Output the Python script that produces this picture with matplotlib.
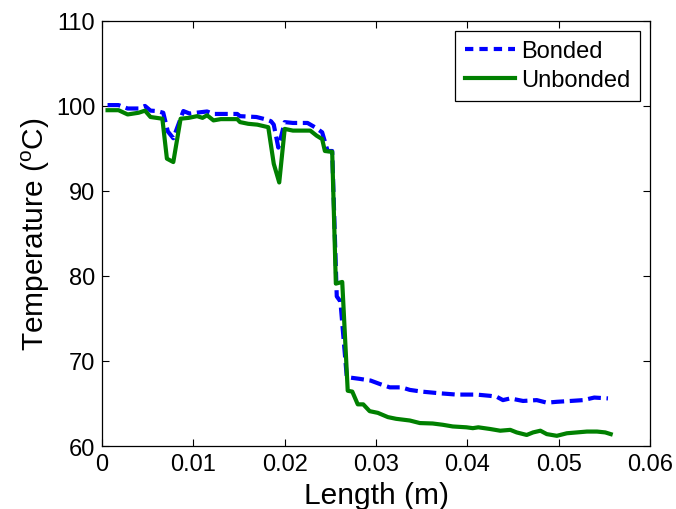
import matplotlib
matplotlib.use("Agg")
import matplotlib.pyplot as plt

plt.rcParams['font.family'] = ['Liberation Sans', 'DejaVu Sans']
plt.rcParams['mathtext.fontset'] = 'custom'
plt.rcParams['mathtext.rm'] = 'Liberation Sans'
plt.rcParams['mathtext.it'] = 'Liberation Sans'

# Bonded sample: position along the specimen (m) and temperature (degC)
bonded_x = [0.0006, 0.0018, 0.0028, 0.0040, 0.0047, 0.0053, 0.0060, 0.0067,
            0.0072, 0.0078, 0.0089, 0.0096, 0.0103, 0.0115, 0.0122, 0.0130,
            0.0148, 0.0151, 0.0169, 0.0180, 0.0185, 0.0188, 0.0193, 0.0200,
            0.0209, 0.0225, 0.0233, 0.0241, 0.0247, 0.0252, 0.0257, 0.0261,
            0.0268, 0.0282, 0.0294, 0.0304, 0.0315, 0.0328, 0.0337, 0.0350,
            0.0370, 0.0388, 0.0410, 0.0425, 0.0432, 0.0439, 0.0447, 0.0461,
            0.0476, 0.0487, 0.0498, 0.0513, 0.0527, 0.0539, 0.0554]
bonded_t = [100.1, 100.1, 99.7, 99.7, 100.0, 99.45, 99.4, 99.2,
            97.0, 96.2, 99.4, 99.1, 99.2, 99.35, 99.06, 99.06,
            99.06, 98.8, 98.7, 98.4, 98.2, 97.8, 95.1, 98.1,
            98.0, 98.0, 97.5, 96.9, 94.7, 94.7, 77.6, 77.0,
            68.1, 67.9, 67.7, 67.3, 66.9, 66.9, 66.6, 66.4,
            66.2, 66.05, 66.05, 65.9, 65.8, 65.4, 65.6, 65.3,
            65.4, 65.1, 65.2, 65.3, 65.4, 65.7, 65.6]

# Unbonded sample
unbonded_x = [0.0006, 0.0018, 0.0028, 0.0040, 0.0047, 0.0053, 0.0066, 0.0071,
              0.0078, 0.0086, 0.0095, 0.0104, 0.0110, 0.0115, 0.0122, 0.0130,
              0.0148, 0.0151, 0.0160, 0.0170, 0.0182, 0.0188, 0.0194, 0.0200,
              0.0209, 0.0228, 0.0235, 0.0241, 0.0244, 0.0252, 0.0256, 0.0263,
              0.0269, 0.0274, 0.0280, 0.0286, 0.0293, 0.0302, 0.0313, 0.0322,
              0.0337, 0.0348, 0.0362, 0.0373, 0.0384, 0.0399, 0.0406, 0.0412,
              0.0425, 0.0436, 0.0447, 0.0454, 0.0465, 0.0472, 0.0480, 0.0487,
              0.0498, 0.0509, 0.0520, 0.0531, 0.0542, 0.0551, 0.0557]
unbonded_t = [99.5, 99.5, 99.0, 99.2, 99.45, 98.7, 98.5, 93.8,
              93.4, 98.5, 98.6, 98.8, 98.6, 98.9, 98.3, 98.45,
              98.45, 98.1, 97.9, 97.8, 97.5, 93.2, 91.0, 97.3,
              97.1, 97.1, 96.5, 96.1, 94.7, 94.6, 79.1, 79.3,
              66.5, 66.4, 64.9, 64.9, 64.1, 63.9, 63.4, 63.2,
              63.0, 62.7, 62.65, 62.5, 62.3, 62.2, 62.1, 62.2,
              62.0, 61.8, 61.9, 61.6, 61.3, 61.6, 61.8, 61.4,
              61.2, 61.5, 61.6, 61.7, 61.7, 61.6, 61.4]

x_ticks = [0, 0.01, 0.02, 0.03, 0.04, 0.05, 0.06]
x_tick_labels = ['0', '0.01', '0.02', '0.03', '0.04', '0.05', '0.06']
y_ticks = [60, 70, 80, 90, 100, 110]

fig = plt.figure(figsize=(6.76, 5.10), dpi=100)
ax = fig.add_axes([0.151, 0.1235, 0.8105, 0.8335])

ax.plot(bonded_x, bonded_t, color='#0000ff', lw=3.0, ls='--', dashes=(3.1, 1.35),
        label='Bonded')
ax.plot(unbonded_x, unbonded_t, color='#008000', lw=3.0, label='Unbonded')

ax.set_xlim(0, 0.06)
ax.set_ylim(60, 110)
ax.set_xticks(x_ticks)
ax.set_xticklabels(x_tick_labels)
ax.set_yticks(y_ticks)
ax.tick_params(direction='in', length=5, width=0.8, top=True, right=True,
               labelsize=17, pad=5)
for s in ax.spines.values():
    s.set_linewidth(0.9)

ax.set_xlabel('Length (m)', fontsize=21.5, labelpad=4)
ax.set_ylabel('Temperature ($^{\\mathrm{o}}$C)', fontsize=21.5, labelpad=3)

leg = ax.legend(loc='upper right', bbox_to_anchor=(1.0, 1.0),
                borderaxespad=0.42, fontsize=17, handlelength=2.15,
                handletextpad=0.25, labelspacing=0.3, borderpad=0.4,
                fancybox=False, framealpha=1, edgecolor='black')
leg.get_frame().set_linewidth(0.9)
leg.get_lines()[0].set_dashes((2.0, 1.45))

fig.savefig('out.png', dpi=100)
